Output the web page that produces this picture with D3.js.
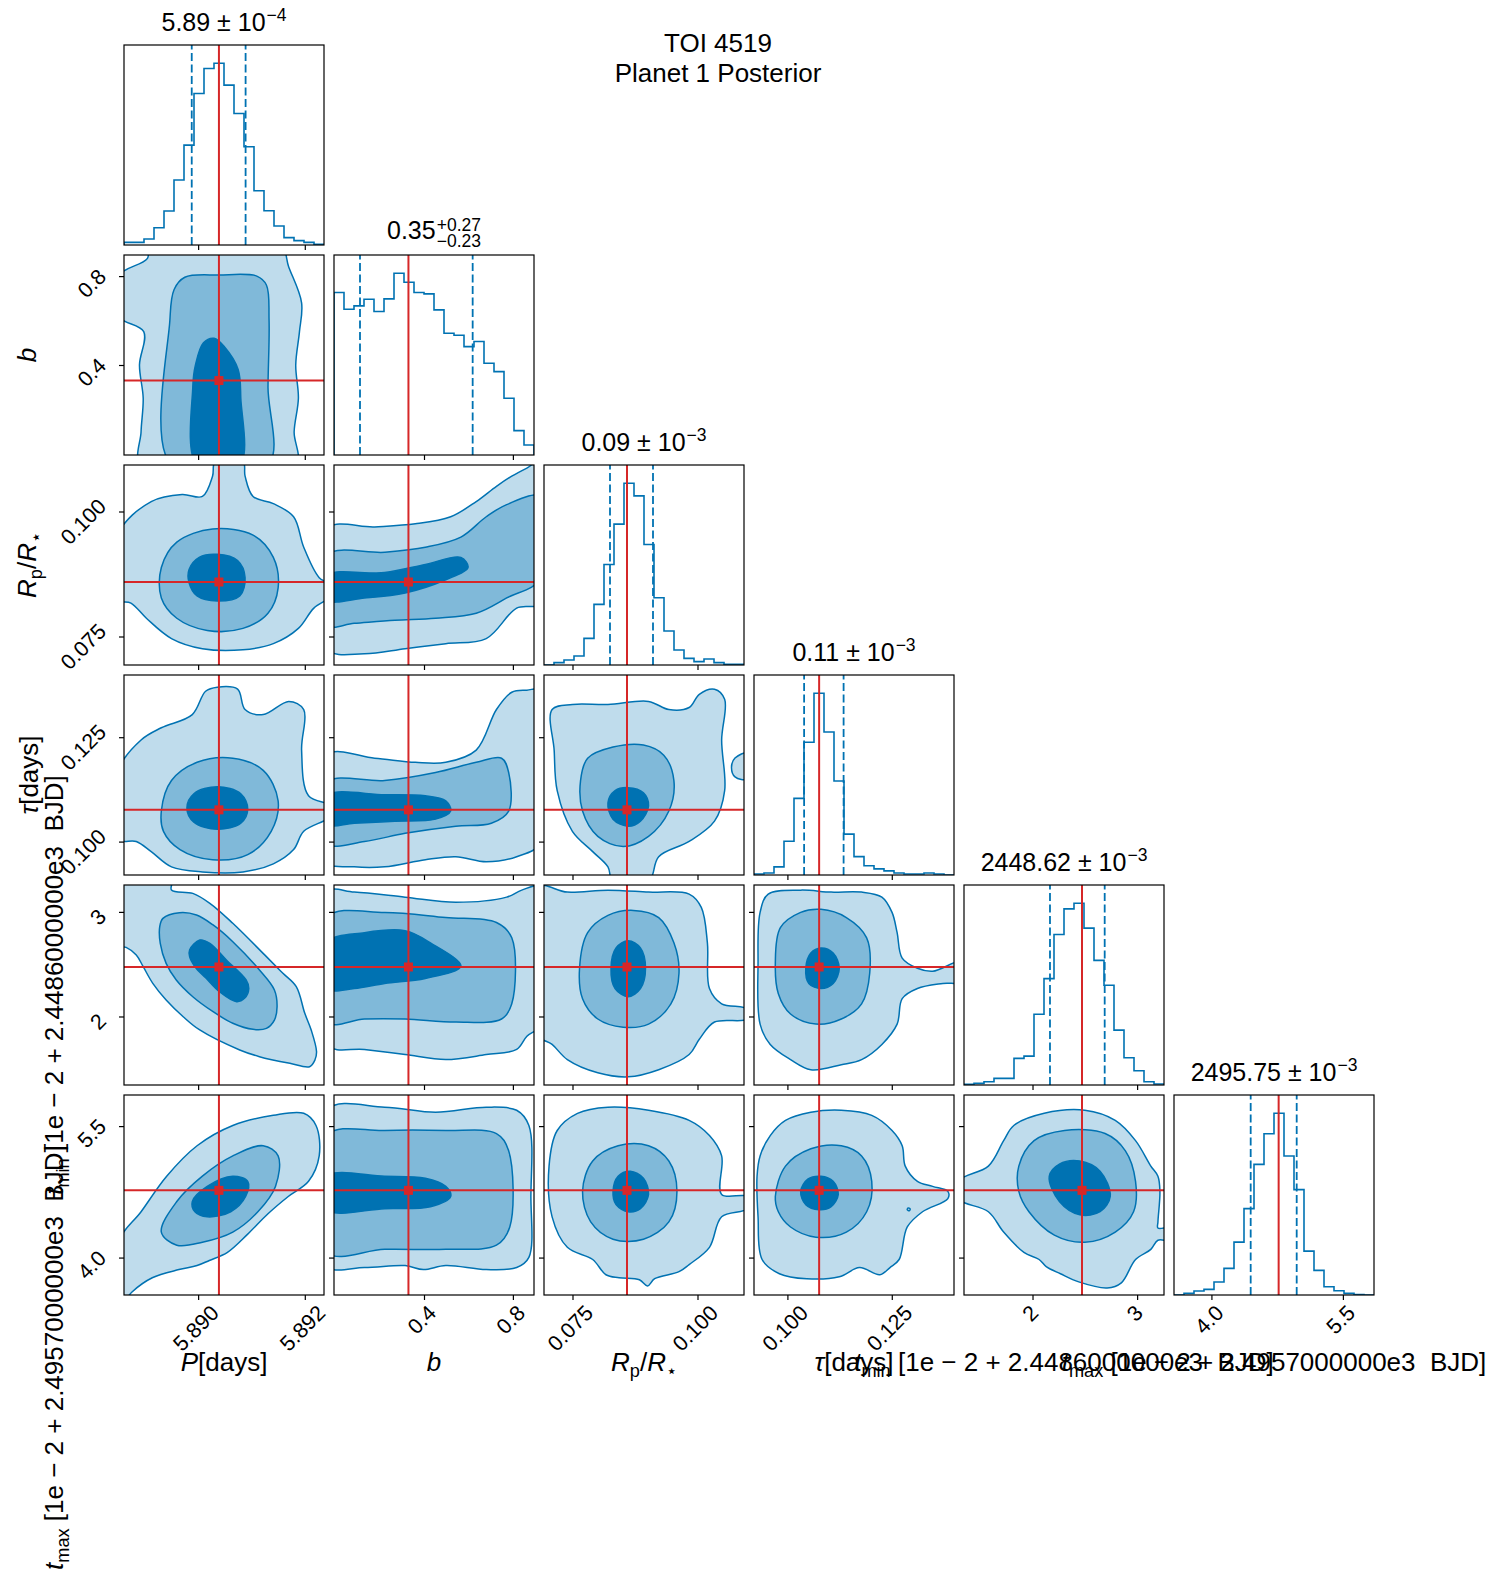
<!DOCTYPE html>
<html>
<head>
<meta charset="utf-8">
<script src="https://cdn.jsdelivr.net/npm/d3@7"></script>
<style>
body { margin: 0; background: #fff; }
text { font-family: "Liberation Sans", Arial, sans-serif; fill: #000; white-space: pre; }
</style>
</head>
<body>
<svg id="fig"></svg>
<script>
// parameter order: P, b, Rp/R*, tau, t_min, t_max
const ranges = [[5.88861, 5.89236], [-0.005, 0.895], [0.0693, 0.1093], [0.092, 0.1399], [1.345, 3.257], [3.573, 5.855]]
const truths = [5.89039, 0.33, 0.0859, 0.1076, 2.473, 4.767]
const qLow = [5.88988, 0.112, 0.0825, 0.1040, 2.167, 4.448]
const qHigh = [5.89089, 0.619, 0.0911, 0.11346, 2.690, 4.973]
const tickValues = [[5.890, 5.892], [0.4, 0.8], [0.075, 0.100], [0.100, 0.125], [2, 3], [4.0, 5.5]]
const tickText = [["5.890", "5.892"], ["0.4", "0.8"], ["0.075", "0.100"], ["0.100", "0.125"], ["2", "3"], ["4.0", "5.5"]]

// histogram counts, 20 bins over each range
const histP = [8, 8, 18, 52, 102, 195, 300, 455, 530, 546, 480, 395, 295, 163, 103, 57, 22, 13, 8, 2]
const histB = [487, 437, 447, 467, 430, 468, 545, 518, 487, 483, 435, 365, 359, 325, 340, 275, 250, 170, 73, 30]
const histRp = [0, 7, 15, 27, 80, 182, 302, 423, 546, 508, 362, 202, 102, 45, 20, 10, 18, 7, 2, 2]
const histTau = [1, 2, 8, 33, 75, 130, 178, 140, 92, 40, 18, 9, 6, 4, 2, 1, 1, 2, 1, 0]
const histTmin = [2, 5, 10, 20, 20, 80, 87, 213, 320, 453, 530, 547, 472, 375, 300, 165, 82, 43, 10, 3]
const histTmax = [0, 5, 12, 17, 39, 80, 159, 260, 393, 485, 547, 418, 317, 132, 74, 25, 13, 5, 1, 0]
const hists = [histP, histB, histRp, histTau, histTmin, histTmax]

const titleMain = ["5.89 ± 10", "0.35", "0.09 ± 10", "0.11 ± 10", "2448.62 ± 10", "2495.75 ± 10"]
const titleSup = ["−4", "+0.27", "−3", "−3", "−3", "−3"]
const titleSub = [null, "−0.23", null, null, null, null]

const axisLabels = [
    [["P", "i"], ["[days]", "n"]],
    [["b", "i"]],
    [["R", "i"], ["p", "sub"], ["/", "n"], ["R", "i"], ["⋆", "sub"]],
    [["τ", "i"], ["[days]", "n"]],
    [["t", "i"], ["min", "sub"], [" [1e − 2 + 2.4486000000e3  BJD]", "n"]],
    [["t", "i"], ["max", "sub"], [" [1e − 2 + 2.4957000000e3  BJD]", "n"]]
]

// contour rings [x, y] in data units: light, medium, dark
const cont_b_P = [
    [[5.88909,0.95],[5.88905,0.88],[5.8885,0.80],[5.8885,0.62],[5.88898,0.55],[5.88890,0.40],[5.88897,0.25],[5.88893,0.10],[5.88893,-0.05],[5.89183,-0.05],[5.89180,0.10],[5.89188,0.25],[5.89183,0.40],[5.89190,0.55],[5.89194,0.68],[5.89170,0.84],[5.89152,0.95]],
    [[5.88950,-0.05],[5.88947,0.60],[5.88955,0.74],[5.88975,0.795],[5.89040,0.805],[5.89110,0.80],[5.89128,0.76],[5.89133,0.60],[5.89131,0.30],[5.89131,-0.05]],
    [[5.88998,-0.05],[5.88990,0.30],[5.88995,0.40],[5.89010,0.50],[5.89030,0.52],[5.89050,0.48],[5.89075,0.38],[5.89080,0.25],[5.89078,-0.05]]
]
const cont_Rp_P = [
    [[5.8885,0.0955],[5.88912,0.10199],[5.88970,0.10341],[5.89008,0.10301],[5.89027,0.10707],[5.89032,0.1100],[5.89084,0.1100],[5.89088,0.10707],[5.89103,0.10301],[5.89141,0.10158],[5.89179,0.09895],[5.89198,0.09286],[5.89227,0.08677],[5.8925,0.0852],[5.8925,0.0832],[5.89217,0.08068],[5.89188,0.07662],[5.89141,0.07357],[5.89084,0.07235],[5.89008,0.07256],[5.88950,0.07459],[5.88903,0.07865],[5.88874,0.08169],[5.8885,0.0823]],
    [[5.88931,0.0888],[5.88960,0.09387],[5.89027,0.09651],[5.89103,0.09529],[5.89141,0.09083],[5.89150,0.08474],[5.89131,0.07966],[5.89084,0.07662],[5.89017,0.07621],[5.88960,0.07865],[5.88931,0.08271]],
    [[5.88983,0.0884],[5.89002,0.09083],[5.89036,0.09144],[5.89074,0.0902],[5.89088,0.08677],[5.89078,0.08311],[5.89036,0.0821],[5.88998,0.08311],[5.88983,0.08575]]
]
const cont_tau_P = [
    [[5.8885,0.11705],[5.88893,0.12434],[5.88931,0.12726],[5.88989,0.13042],[5.89014,0.13601],[5.89036,0.13698],[5.89074,0.1365],[5.89088,0.13163],[5.89122,0.13042],[5.89170,0.13358],[5.89198,0.13163],[5.89194,0.12191],[5.89207,0.11097],[5.8925,0.10854],[5.8925,0.1062],[5.89198,0.10246],[5.89179,0.09809],[5.89141,0.09468],[5.89084,0.09274],[5.89008,0.09274],[5.88950,0.09395],[5.88912,0.0976],[5.88884,0.10003],[5.8885,0.10052]],
    [[5.88931,0.10732],[5.88950,0.11462],[5.88998,0.11899],[5.89065,0.11997],[5.89122,0.11705],[5.89150,0.10976],[5.89137,0.10246],[5.89093,0.09687],[5.89027,0.09566],[5.88966,0.09809],[5.88935,0.10246]],
    [[5.88979,0.10805],[5.88992,0.11146],[5.89036,0.11316],[5.89080,0.11146],[5.89093,0.10781],[5.89080,0.10441],[5.89036,0.10295],[5.88992,0.10465]]
]
const cont_tmin_P = [
    [[5.88853,3.305],[5.88950,3.305],[5.88950,3.209],[5.88990,3.177],[5.89022,3.082],[5.89065,2.891],[5.89128,2.572],[5.89159,2.413],[5.89184,2.285],[5.89200,2.030],[5.89212,1.871],[5.89222,1.664],[5.89219,1.584],[5.89209,1.520],[5.89172,1.552],[5.89115,1.616],[5.89078,1.680],[5.89003,1.871],[5.88972,1.998],[5.88940,2.158],[5.88915,2.317],[5.88897,2.476],[5.88884,2.588],[5.88865,2.661],[5.88853,2.674]],
    [[5.88928,2.859],[5.88934,2.938],[5.88965,2.992],[5.88997,2.970],[5.89028,2.875],[5.89065,2.715],[5.89115,2.444],[5.89143,2.253],[5.89148,2.094],[5.89143,1.966],[5.89128,1.887],[5.89103,1.877],[5.89065,1.935],[5.89028,2.046],[5.88990,2.189],[5.88959,2.349],[5.88940,2.508],[5.88929,2.699]],
    [[5.88984,2.636],[5.89003,2.731],[5.89022,2.699],[5.89053,2.540],[5.89090,2.349],[5.89095,2.269],[5.89087,2.174],[5.89072,2.142],[5.89040,2.237],[5.89015,2.365],[5.88994,2.476],[5.88984,2.572]]
]
const cont_tmax_P = [
    [[5.8885,4.175],[5.88893,4.523],[5.88941,4.928],[5.88998,5.276],[5.89065,5.507],[5.89141,5.623],[5.89198,5.646],[5.89221,5.507],[5.89227,5.160],[5.89207,4.870],[5.89169,4.697],[5.89131,4.500],[5.89093,4.268],[5.89055,4.060],[5.89021,3.967],[5.88998,3.909],[5.88964,3.863],[5.88914,3.770],[5.88876,3.608],[5.8885,3.42]],
    [[5.88931,4.29],[5.88960,4.64],[5.89008,4.93],[5.89065,5.16],[5.89122,5.276],[5.89150,5.16],[5.89145,4.812],[5.89112,4.523],[5.89065,4.291],[5.89008,4.175],[5.88960,4.141]],
    [[5.88989,4.639],[5.89017,4.812],[5.89065,4.928],[5.89093,4.870],[5.89089,4.697],[5.89061,4.523],[5.89017,4.465],[5.88994,4.523]]
]
const cont_Rp_b = [
    [[-0.04,0.09651],[0.178,0.09692],[0.361,0.09753],[0.520,0.09895],[0.635,0.10199],[0.726,0.10504],[0.795,0.10707],[0.863,0.10869],[0.93,0.1101],[0.93,0.0817],[0.817,0.08068],[0.680,0.07459],[0.498,0.07357],[0.315,0.07256],[0.132,0.07154],[-0.04,0.07256]],
    [[-0.04,0.09123],[0.223,0.09184],[0.406,0.09286],[0.566,0.09489],[0.680,0.09895],[0.772,0.10138],[0.93,0.10301],[0.93,0.08677],[0.772,0.08271],[0.635,0.07966],[0.452,0.07865],[0.269,0.07824],[0.086,0.07763],[-0.04,0.07723]],
    [[-0.04,0.08717],[0.223,0.08778],[0.406,0.08941],[0.566,0.09083],[0.598,0.0888],[0.498,0.08636],[0.315,0.08372],[0.132,0.08271],[-0.04,0.0823]]
]
const cont_tau_b = [
    [[-0.04,0.1207],[0.178,0.11997],[0.361,0.11899],[0.498,0.11899],[0.635,0.12191],[0.726,0.13163],[0.795,0.13577],[0.863,0.13625],[0.93,0.13625],[0.93,0.10003],[0.817,0.09638],[0.680,0.09517],[0.543,0.09638],[0.406,0.09566],[0.223,0.09395],[0.086,0.09395],[-0.04,0.09517]],
    [[-0.04,0.11413],[0.223,0.11462],[0.452,0.11656],[0.635,0.11899],[0.749,0.11997],[0.781,0.11656],[0.781,0.10732],[0.703,0.10441],[0.543,0.10368],[0.315,0.10198],[0.132,0.10003],[-0.04,0.09954]],
    [[-0.04,0.11097],[0.223,0.11122],[0.406,0.11097],[0.498,0.10976],[0.520,0.10732],[0.452,0.10538],[0.269,0.10489],[0.086,0.10441],[-0.04,0.10416]]
]
const cont_tmin_b = [
    [[-0.04,3.189],[0.086,3.189],[0.315,3.141],[0.543,3.092],[0.772,3.141],[0.840,3.208],[0.93,3.238],[0.93,1.927],[0.863,1.811],[0.817,1.685],[0.680,1.636],[0.498,1.588],[0.315,1.636],[0.132,1.685],[-0.04,1.733]],
    [[-0.04,2.946],[0.223,2.995],[0.498,2.946],[0.726,2.898],[0.795,2.752],[0.795,2.121],[0.749,1.976],[0.543,1.947],[0.315,1.976],[0.132,1.976],[-0.04,1.947]],
    [[-0.04,2.704],[0.132,2.801],[0.315,2.820],[0.429,2.704],[0.566,2.481],[0.406,2.364],[0.223,2.316],[0.086,2.267],[-0.04,2.267]]
]
const cont_tmax_b = [
    [[-0.04,5.681],[0.223,5.716],[0.452,5.658],[0.680,5.716],[0.817,5.681],[0.872,5.507],[0.881,4.697],[0.872,4.002],[0.817,3.886],[0.680,3.863],[0.498,3.909],[0.397,3.863],[0.315,3.909],[0.132,3.886],[-0.04,3.909]],
    [[-0.04,5.392],[0.223,5.450],[0.498,5.450],[0.726,5.415],[0.781,5.218],[0.786,4.349],[0.726,4.141],[0.498,4.094],[0.223,4.094],[-0.04,4.060]],
    [[-0.04,4.928],[0.223,4.928],[0.406,4.905],[0.498,4.812],[0.520,4.697],[0.429,4.581],[0.223,4.558],[-0.04,4.546]]
]
const cont_tau_Rp = [
    [[0.07092,0.13163],[0.07133,0.12191],[0.07194,0.11219],[0.07498,0.10246],[0.07904,0.0976],[0.08209,0.09395],[0.0831,0.0904],[0.09021,0.0904],[0.09224,0.09638],[0.09833,0.10003],[0.1034,0.10489],[0.10543,0.11219],[0.10483,0.12434],[0.10543,0.13407],[0.1034,0.1365],[0.10036,0.13528],[0.09833,0.13212],[0.09427,0.13163],[0.09021,0.13358],[0.08209,0.13285],[0.07498,0.13285]],
    [[0.07661,0.11462],[0.07803,0.11997],[0.0831,0.12264],[0.08919,0.12313],[0.09325,0.1207],[0.09528,0.11462],[0.09427,0.10732],[0.09021,0.10125],[0.08513,0.09882],[0.08006,0.10125],[0.07701,0.10732]],
    [[0.08209,0.10927],[0.08351,0.11219],[0.08615,0.11292],[0.08919,0.1117],[0.09021,0.10854],[0.08859,0.10489],[0.08615,0.10368],[0.0831,0.10538]]
]
const cont_tmin_Rp = [
    [[0.0679,3.238],[0.07397,3.189],[0.08209,3.208],[0.09021,3.189],[0.09833,3.170],[0.10076,3.043],[0.10198,2.704],[0.10239,2.267],[0.10483,2.121],[0.1099,2.073],[0.1099,1.976],[0.1034,1.947],[0.10036,1.782],[0.09833,1.636],[0.09224,1.491],[0.08615,1.423],[0.08006,1.462],[0.07397,1.588],[0.07092,1.733],[0.0679,1.830]],
    [[0.07641,2.461],[0.07803,2.801],[0.08209,2.966],[0.08716,3.014],[0.09224,2.946],[0.09528,2.704],[0.0963,2.413],[0.09468,2.121],[0.09021,1.927],[0.08513,1.898],[0.08006,1.976],[0.07701,2.170]],
    [[0.0827,2.461],[0.08371,2.655],[0.08615,2.723],[0.08859,2.655],[0.0896,2.461],[0.08859,2.267],[0.08615,2.189],[0.08351,2.267]]
]
const cont_tmax_Rp = [
    [[0.07031,5.044],[0.07194,5.450],[0.0760,5.646],[0.08209,5.716],[0.09021,5.681],[0.09833,5.565],[0.10239,5.392],[0.10483,5.160],[0.10483,4.720],[0.1099,4.697],[0.1099,4.558],[0.10483,4.465],[0.10239,4.117],[0.09833,3.920],[0.0963,3.839],[0.09143,3.759],[0.09001,3.677],[0.08838,3.747],[0.08432,3.770],[0.08169,3.804],[0.07904,3.978],[0.07397,4.117],[0.07092,4.465]],
    [[0.07701,4.755],[0.07904,5.102],[0.08412,5.276],[0.09021,5.276],[0.09427,5.102],[0.09589,4.755],[0.09427,4.407],[0.08919,4.210],[0.0831,4.210],[0.07864,4.407]],
    [[0.0831,4.755],[0.08412,4.928],[0.08656,4.986],[0.08919,4.905],[0.09021,4.720],[0.08859,4.558],[0.08615,4.523],[0.08371,4.604]]
]
const cont_tmin_tau = [
    [[0.0954,3.170],[0.10318,3.208],[0.11048,3.189],[0.11777,3.189],[0.12263,3.141],[0.12506,2.995],[0.12628,2.801],[0.12749,2.558],[0.13114,2.461],[0.13479,2.432],[0.142,2.529],[0.142,2.335],[0.13722,2.316],[0.13114,2.267],[0.12749,2.170],[0.12628,1.927],[0.12263,1.733],[0.11777,1.588],[0.11291,1.539],[0.10561,1.491],[0.10075,1.588],[0.09589,1.733],[0.09346,1.927],[0.09297,2.510],[0.09346,2.995]],
    [[0.09711,2.510],[0.09832,2.849],[0.10318,2.995],[0.10804,3.024],[0.11412,2.946],[0.11898,2.752],[0.11971,2.413],[0.11777,2.121],[0.11291,1.976],[0.10683,1.927],[0.10075,2.024],[0.09783,2.218]],
    [[0.1044,2.461],[0.10561,2.607],[0.10804,2.655],[0.11096,2.607],[0.11242,2.461],[0.11096,2.316],[0.10804,2.267],[0.10513,2.316]]
]
const cont_tmax_tau = [
    [[0.09346,5.160],[0.09589,5.392],[0.09954,5.565],[0.10561,5.658],[0.11291,5.681],[0.1202,5.623],[0.12506,5.450],[0.12749,5.276],[0.12822,5.044],[0.13114,4.870],[0.13479,4.812],[0.13843,4.755],[0.13843,4.673],[0.13236,4.523],[0.12871,4.349],[0.12676,3.978],[0.12457,3.886],[0.12214,3.804],[0.11728,3.886],[0.11242,3.781],[0.10464,3.758],[0.09808,3.816],[0.09394,3.978],[0.09297,4.465],[0.09273,4.928]],
    [[0.09711,4.697],[0.09954,5.044],[0.10561,5.241],[0.11291,5.276],[0.11777,5.160],[0.1202,4.870],[0.11898,4.523],[0.11412,4.291],[0.10683,4.233],[0.10075,4.349],[0.09783,4.523]],
    [[0.10318,4.755],[0.10488,4.894],[0.10804,4.928],[0.11096,4.870],[0.11218,4.720],[0.11048,4.581],[0.10756,4.546],[0.1044,4.604]]
]
const cont_tmax_tmin = [
    [[1.287,4.870],[1.578,5.044],[1.724,5.334],[1.821,5.507],[2.112,5.646],[2.500,5.681],[2.791,5.565],[2.985,5.334],[3.131,5.044],[3.199,4.928],[3.218,4.755],[3.199,4.407],[3.199,4.337],[3.325,4.337],[3.325,4.198],[3.199,4.198],[3.131,4.094],[2.985,3.978],[2.849,3.712],[2.714,3.654],[2.442,3.723],[2.267,3.816],[2.131,3.897],[2.063,3.978],[1.918,4.059],[1.724,4.291],[1.578,4.523],[1.287,4.673]],
    [[1.869,5.044],[2.015,5.334],[2.306,5.450],[2.694,5.415],[2.888,5.218],[2.985,4.870],[2.966,4.523],[2.791,4.291],[2.500,4.175],[2.209,4.256],[1.966,4.523],[1.869,4.755]],
    [[2.160,4.928],[2.257,5.067],[2.452,5.102],[2.646,4.986],[2.743,4.697],[2.646,4.523],[2.452,4.488],[2.257,4.639]]
]
// small separate light patches [row, col, ring]
const islands = [
    [3, 2, [[0.1075,0.1200],[0.1100,0.1212],[0.1100,0.1150],[0.1075,0.1155],[0.1068,0.1178]]],
    [5, 3, [[0.1289,4.565],[0.1294,4.555],[0.1292,4.535],[0.1287,4.545]]]
]

const contours = [
    [1, 0, cont_b_P], [2, 0, cont_Rp_P], [3, 0, cont_tau_P], [4, 0, cont_tmin_P], [5, 0, cont_tmax_P],
    [2, 1, cont_Rp_b], [3, 1, cont_tau_b], [4, 1, cont_tmin_b], [5, 1, cont_tmax_b],
    [3, 2, cont_tau_Rp], [4, 2, cont_tmin_Rp], [5, 2, cont_tmax_Rp],
    [4, 3, cont_tmin_tau], [5, 3, cont_tmax_tau],
    [5, 4, cont_tmax_tmin]
]

// layout
const left0 = 124, top0 = 45, size = 200, pitch = 210
const blue = "#0072b2", red = "#d62728"
const fills = ["#bfdcec", "#80b9d9", "#0072b2"]
const tickFont = 21.5

const svg = d3.select("#fig").attr("width", 1504).attr("height", 1590)
const defs = svg.append("defs")

const xScale = j => d3.scaleLinear().domain(ranges[j]).range([left0 + j * pitch, left0 + j * pitch + size])
const yScale = i => d3.scaleLinear().domain(ranges[i]).range([top0 + i * pitch + size, top0 + i * pitch])

for (let i = 0; i < 6; i++)
    for (let j = 0; j <= i; j++)
        defs.append("clipPath").attr("id", `c${i}${j}`)
            .append("rect")
            .attr("x", left0 + j * pitch).attr("y", top0 + i * pitch)
            .attr("width", size).attr("height", size)

// 2D panels
contours.forEach(([i, j, levels]) => {
    const x = xScale(j), y = yScale(i)
    const g = svg.append("g").attr("clip-path", `url(#c${i}${j})`)
    const line = d3.line().x(d => x(d[0])).y(d => y(d[1])).curve(d3.curveCatmullRomClosed.alpha(0.5))
    levels.forEach((ring, k) => {
        g.append("path").attr("d", line(ring))
            .attr("fill", fills[k]).attr("stroke", blue).attr("stroke-width", 1.5)
        if (k === 0)
            islands.filter(s => s[0] === i && s[1] === j).forEach(s =>
                g.append("path").attr("d", line(s[2]))
                    .attr("fill", fills[0]).attr("stroke", blue).attr("stroke-width", 1.5))
    })
    // truth lines and marker
    g.append("line").attr("x1", x(truths[j])).attr("x2", x(truths[j]))
        .attr("y1", y.range()[1]).attr("y2", y.range()[0])
        .attr("stroke", red).attr("stroke-width", 2)
    g.append("line").attr("y1", y(truths[i])).attr("y2", y(truths[i]))
        .attr("x1", x.range()[0]).attr("x2", x.range()[1])
        .attr("stroke", red).attr("stroke-width", 2)
    g.append("rect").attr("x", x(truths[j]) - 4.5).attr("y", y(truths[i]) - 4.5)
        .attr("width", 9).attr("height", 9).attr("fill", red)
})

// diagonal histograms
hists.forEach((h, k) => {
    const x = xScale(k)
    const y = d3.scaleLinear().domain([0, 1.1 * d3.max(h)]).range([top0 + k * pitch + size, top0 + k * pitch])
    const [lo, hi] = ranges[k]
    const w = (hi - lo) / h.length
    const pts = [[lo, 0]]
    h.forEach((v, b) => { pts.push([lo + b * w, v]); pts.push([lo + (b + 1) * w, v]) })
    pts.push([hi, 0])
    const g = svg.append("g").attr("clip-path", `url(#c${k}${k})`)
    g.append("path").attr("d", d3.line().x(d => x(d[0])).y(d => y(d[1]))(pts))
        .attr("fill", "none").attr("stroke", blue).attr("stroke-width", 1.6)
    ;[qLow[k], qHigh[k]].forEach(q =>
        g.append("line").attr("x1", x(q)).attr("x2", x(q)).attr("y1", y.range()[0]).attr("y2", y.range()[1])
            .attr("stroke", blue).attr("stroke-width", 1.8).attr("stroke-dasharray", "8,3.5"))
    g.append("line").attr("x1", x(truths[k])).attr("x2", x(truths[k]))
        .attr("y1", y.range()[0]).attr("y2", y.range()[1])
        .attr("stroke", red).attr("stroke-width", 2)
})

// frames and tick marks
for (let i = 0; i < 6; i++) {
    for (let j = 0; j <= i; j++) {
        const px = left0 + j * pitch, py = top0 + i * pitch
        const bottom = svg.append("g").attr("transform", `translate(0,${py + size})`)
            .call(d3.axisBottom(xScale(j)).tickValues(tickValues[j]).tickSize(5).tickFormat(""))
        bottom.select(".domain").remove()
        if (j < i) {
            const left = svg.append("g").attr("transform", `translate(${px},0)`)
                .call(d3.axisLeft(yScale(i)).tickValues(tickValues[i]).tickSize(5).tickFormat(""))
            left.select(".domain").remove()
        }
        svg.append("rect").attr("x", px).attr("y", py).attr("width", size).attr("height", size)
            .attr("fill", "none").attr("stroke", "#000").attr("stroke-width", 1.2)
    }
}
svg.selectAll(".tick line").attr("stroke", "#000").attr("stroke-width", 1.2)

// rotated tick labels
function rotatedLabel(str) {
    const t = svg.append("text").attr("font-size", tickFont).attr("text-anchor", "middle")
        .attr("dominant-baseline", "central").text(str)
    const L = t.node().getComputedTextLength()
    return [t, L, (L + 0.716 * tickFont) / (2 * Math.SQRT2)]
}
const bottomY = top0 + 5 * pitch + size
for (let j = 0; j < 6; j++) {
    const x = xScale(j)
    tickValues[j].forEach((v, n) => {
        const [t, L, half] = rotatedLabel(tickText[j][n])
        t.attr("transform", `translate(${x(v) - 2},${bottomY + 9 + half})rotate(-45)`)
    })
}
for (let i = 1; i < 6; i++) {
    const y = yScale(i)
    tickValues[i].forEach((v, n) => {
        const [t, L, half] = rotatedLabel(tickText[i][n])
        t.attr("transform", `translate(${left0 - 16 - half},${y(v) + 4 + L * 0.12})rotate(-45)`)
    })
}

// axis labels
function addPieces(text, pieces, fs) {
    let shifted = false
    pieces.forEach(([str, kind]) => {
        const t = text.append("tspan").text(str)
        if (kind === "i") t.attr("font-style", "italic")
        if (kind === "sub") { t.attr("font-size", fs * 0.7).attr("dy", fs * 0.24); shifted = true }
        else if (shifted) { t.attr("dy", -fs * 0.24); shifted = false }
    })
}
for (let j = 0; j < 6; j++) {
    const t = svg.append("text").attr("font-size", 26).attr("text-anchor", "middle")
        .attr("x", left0 + j * pitch + size / 2).attr("y", 1371)
    addPieces(t, axisLabels[j], 26)
}
const ylabX = [0, 36, 36, 38, 63, 63]
for (let i = 1; i < 6; i++) {
    const t = svg.append("text").attr("font-size", 26)
    if (i < 5)
        t.attr("text-anchor", "middle").attr("transform", `translate(${ylabX[i]},${top0 + i * pitch + size / 2})rotate(-90)`)
    else
        t.attr("text-anchor", "start").attr("transform", `translate(${ylabX[i]},1570)rotate(-90)`)
    addPieces(t, axisLabels[i], 26)
}

// titles above histograms
for (let k = 0; k < 6; k++) {
    const cx = left0 + k * pitch + size / 2
    const top = top0 + k * pitch
    const base = titleSub[k] ? top - 16 : top - 14
    const main = svg.append("text").attr("y", base).attr("font-size", 25).text(titleMain[k])
    const mw = main.node().getComputedTextLength()
    const sup = svg.append("text").attr("y", titleSub[k] ? base - 8.5 : base - 10).attr("font-size", 17.5).text(titleSup[k])
    let sw = sup.node().getComputedTextLength()
    let sub = null
    if (titleSub[k]) {
        sub = svg.append("text").attr("y", base + 8).attr("font-size", 17.5).text(titleSub[k])
        sw = Math.max(sw, sub.node().getComputedTextLength())
    }
    const x0 = cx - (mw + sw + 1) / 2
    main.attr("x", x0)
    sup.attr("x", x0 + mw + 1)
    if (sub) sub.attr("x", x0 + mw + 1)
}

// figure title
svg.append("text").attr("x", 718).attr("y", 52).attr("font-size", 26).attr("text-anchor", "middle").text("TOI 4519")
svg.append("text").attr("x", 718).attr("y", 82).attr("font-size", 26).attr("text-anchor", "middle").text("Planet 1 Posterior")
</script>
</body>
</html>
